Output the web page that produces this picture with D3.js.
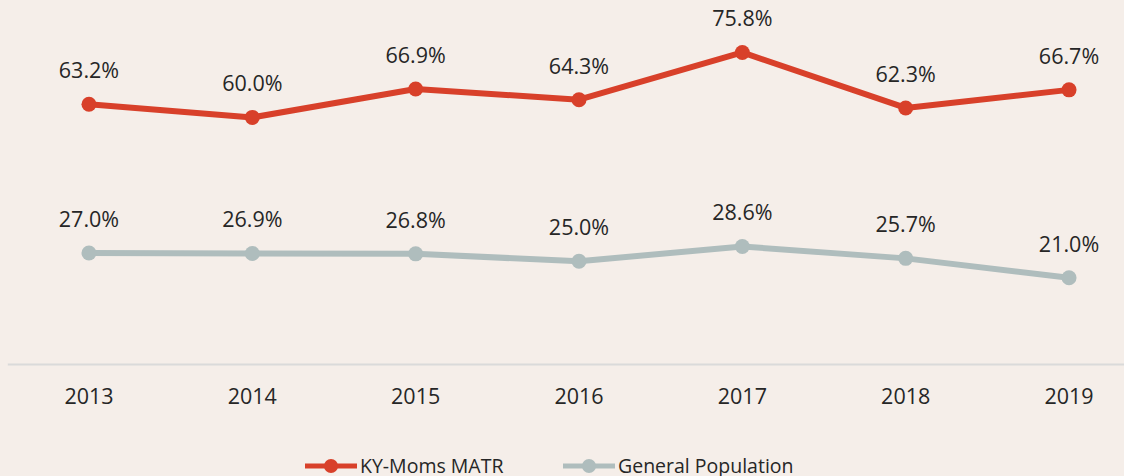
<!DOCTYPE html>
<html>
<head>
<meta charset="utf-8">
<script src="https://cdn.jsdelivr.net/npm/d3@7"></script>
<style>
  html, body { margin: 0; padding: 0; background: #F5EEE9; }
  svg { display: block; }
  text { font-family: "Open Sans", "Noto Sans", sans-serif; fill: #262626; }
</style>
</head>
<body>
<svg id="chart" width="1124" height="476"></svg>
<script>
const years = ["2013", "2014", "2015", "2016", "2017", "2018", "2019"];
const kyMoms = [63.2, 60.0, 66.9, 64.3, 75.8, 62.3, 66.7];
const genPop = [27.0, 26.9, 26.8, 25.0, 28.6, 25.7, 21.0];
const seriesNames = ["KY-Moms MATR", "General Population"];
const seriesColors = ["#D8402A", "#AFBDBD"];

const W = 1124, H = 476;
const svg = d3.select("#chart");
svg.append("rect").attr("width", W).attr("height", H).attr("fill", "#F5EEE9");

const x = d3.scaleBand().domain(years).range([7.3, 1150.7]).padding(0);
const y = d3.scaleLinear().domain([0, 80]).range([364, 35.2]);
const cx = d => x(d) + x.bandwidth() / 2;

// x axis
const axis = svg.append("g").attr("transform", `translate(0,${y(0)})`)
  .call(d3.axisBottom(x).tickSize(0).tickSizeOuter(0).tickPadding(0));
axis.select(".domain").attr("stroke", "#DADADA").attr("stroke-width", 2);
axis.selectAll(".tick text")
  .attr("font-size", 21.5)
  .attr("font-family", "'Open Sans', sans-serif")
  .attr("fill", "#262626")
  .attr("dy", null)
  .attr("y", 39.5);

const seriesData = [kyMoms, genPop];
const line = d3.line().x((d, i) => cx(years[i])).y(d => y(d));

seriesData.forEach((vals, s) => {
  const g = svg.append("g");
  g.append("path").datum(vals)
    .attr("d", line)
    .attr("fill", "none")
    .attr("stroke", seriesColors[s])
    .attr("stroke-width", 6)
    .attr("stroke-linejoin", "round");
  g.selectAll("circle").data(vals).join("circle")
    .attr("cx", (d, i) => cx(years[i]))
    .attr("cy", d => y(d))
    .attr("r", 7.5)
    .attr("fill", seriesColors[s]);
  g.selectAll("text").data(vals).join("text")
    .attr("x", (d, i) => cx(years[i]))
    .attr("y", d => y(d) - 26)
    .attr("text-anchor", "middle")
    .attr("font-size", 21.5)
    .text(d => d.toFixed(1) + "%");
});

// legend
const legendItems = [
  { x0: 305, x1: 357, tx: 360 },
  { x0: 563, x1: 615, tx: 618 }
];
legendItems.forEach((it, s) => {
  const g = svg.append("g");
  g.append("line")
    .attr("x1", it.x0).attr("x2", it.x1)
    .attr("y1", 466).attr("y2", 466)
    .attr("stroke", seriesColors[s]).attr("stroke-width", 5);
  g.append("circle")
    .attr("cx", (it.x0 + it.x1) / 2).attr("cy", 466).attr("r", 7)
    .attr("fill", seriesColors[s]);
  g.append("text")
    .attr("x", it.tx).attr("y", 473)
    .attr("font-size", 19.5)
    .text(seriesNames[s]);
});
</script>
</body>
</html>
